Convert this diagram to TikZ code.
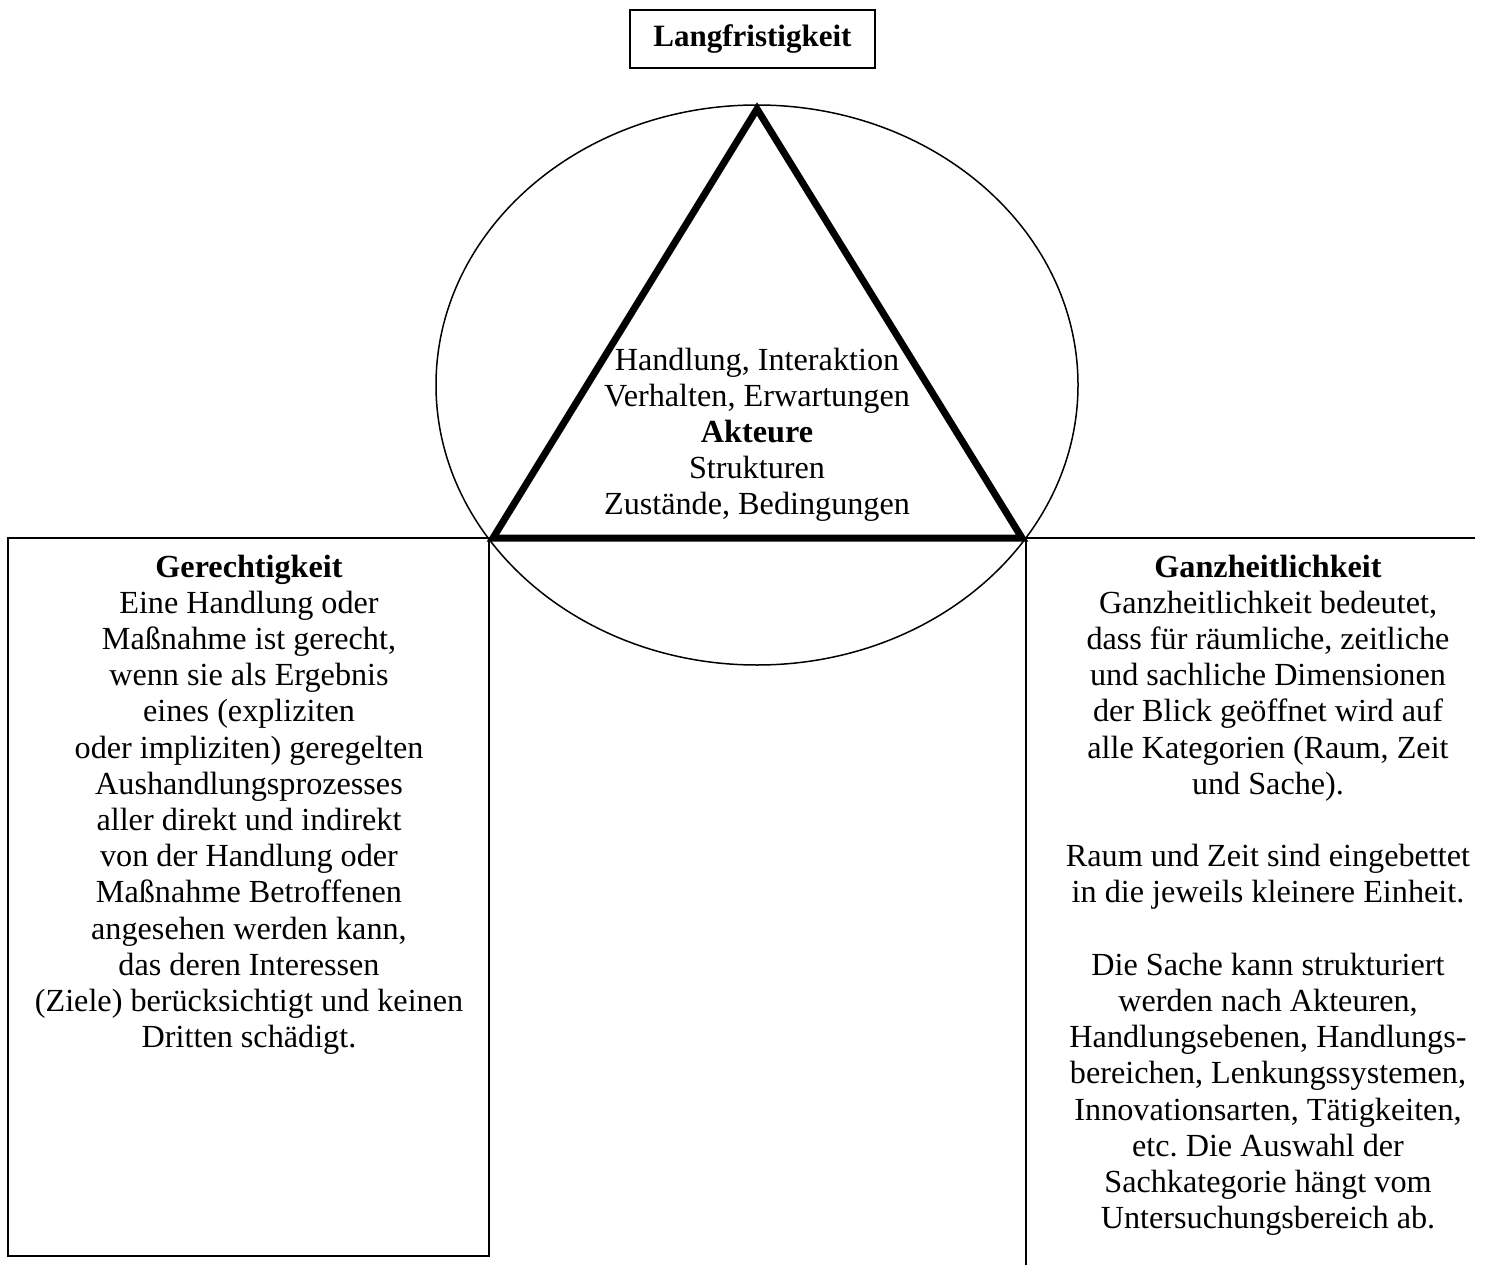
\documentclass[tikz,border=0pt]{standalone}
\usepackage{fontspec}
\setmainfont{Liberation Serif}
\frenchspacing
\begin{document}
\begin{tikzpicture}[x=1pt,y=-1pt,
  txt/.style={align=center, inner sep=0pt, anchor=north, font=\fontsize{32.2}{36.2}\selectfont},
  thinline/.style={line width=1.5pt},
  boxline/.style={line width=2.2pt},
  triline/.style={line width=7pt, line join=miter}]
\useasboundingbox (0,0) rectangle (1485,1265);
% top box
\node[draw, boxline, minimum width=245pt, minimum height=58pt, inner sep=0pt,
      font=\fontsize{31}{36.2}\selectfont\bfseries] (lang) at (752.5,39) {Langfristigkeit};
% ellipse
\coordinate (ec) at (757,385);
\draw[thinline] (ec) ellipse [x radius=321, y radius=280];
% triangle
\coordinate (apex) at (757,109);
\coordinate (bl) at (493,538);
\coordinate (br) at (1022,538);
\draw[triline] (apex) -- (bl) -- (br) -- cycle;
% left box
\coordinate (lb1) at (8,538);
\coordinate (lb2) at (489,1256);
\draw[boxline] (lb1) rectangle (lb2);
% right partial box
\coordinate (rt1) at (1022,538);
\coordinate (rt2) at (1475,538);
\coordinate (rv1) at (1026,538);
\coordinate (rv2) at (1026,1265);
\draw[thinline] (rt1) -- (rt2);
\draw[thinline] (rv1) -- (rv2);
% texts
\node[txt] (center) at (757,347.5) {Handlung, Interaktion\\Verhalten, Erwartungen\\\textbf{Akteure}\\Strukturen\\Zustände, Bedingungen};
\node[txt] (left) at (249,554.5) {\textbf{Gerechtigkeit}\\Eine Handlung oder\\Maßnahme ist gerecht,\\wenn sie als Ergebnis\\eines (expliziten\\oder impliziten) geregelten\\Aushandlungsprozesses\\aller direkt und indirekt\\von der Handlung oder\\Maßnahme Betroffenen\\angesehen werden kann,\\das deren Interessen\\(Ziele) berücksichtigt und keinen\\Dritten schädigt.};
\node[txt] (right) at (1268,554.5) {\textbf{Ganzheitlichkeit}\\Ganzheitlichkeit bedeutet,\\dass für räumliche, zeitliche\\und sachliche Dimensionen\\der Blick geöffnet wird auf\\alle Kategorien (Raum, Zeit\\und Sache).\\[36.2pt]Raum und Zeit sind eingebettet\\in die jeweils kleinere Einheit.\\[36.2pt]Die Sache kann strukturiert\\werden nach Akteuren,\\Handlungsebenen, Handlungs-\\bereichen, Lenkungssystemen,\\Innovationsarten, Tätigkeiten,\\etc. Die Auswahl der\\Sachkategorie hängt vom\\Untersuchungsbereich ab.};
\end{tikzpicture}
\end{document}
